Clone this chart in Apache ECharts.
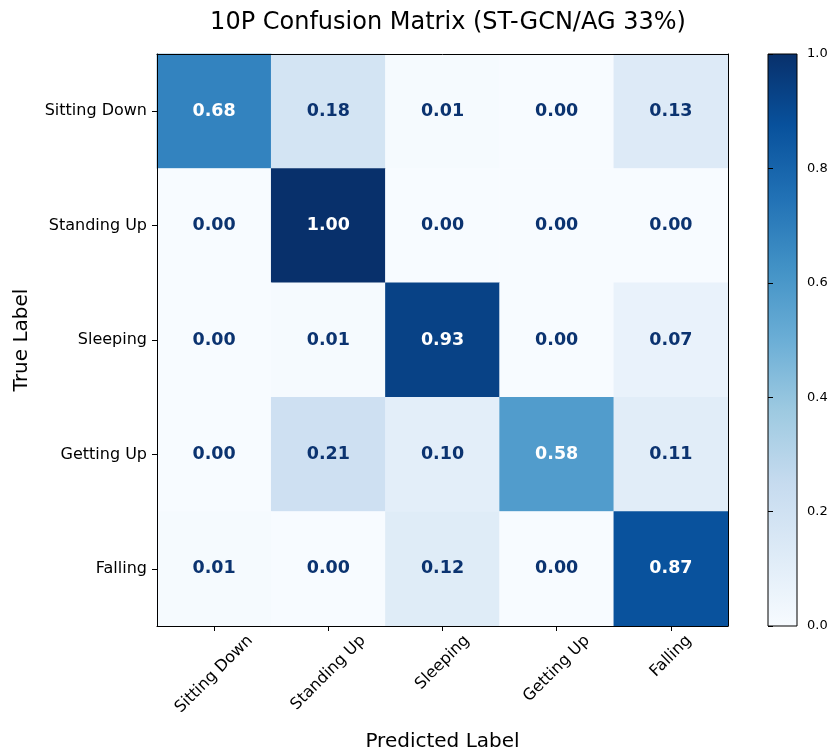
<!DOCTYPE html>
<html>
<head>
<meta charset="utf-8">
<script src="https://cdn.jsdelivr.net/npm/echarts@6/dist/echarts.min.js"></script>
<style>html,body{margin:0;padding:0;background:#fff;}#c{width:832px;height:755px;}</style>
</head>
<body>
<div id="c"></div>
<script>
const titleText = '10P Confusion Matrix (ST-GCN/AG 33%)';
const predictedLabels = ['Sitting Down', 'Standing Up', 'Sleeping', 'Getting Up', 'Falling'];
const trueLabels = ['Sitting Down', 'Standing Up', 'Sleeping', 'Getting Up', 'Falling'];
const rowSittingDown = [0.68, 0.18, 0.01, 0.00, 0.13];
const rowStandingUp = [0.00, 1.00, 0.00, 0.00, 0.00];
const rowSleeping = [0.00, 0.01, 0.93, 0.00, 0.07];
const rowGettingUp = [0.00, 0.21, 0.10, 0.58, 0.11];
const rowFalling = [0.01, 0.00, 0.12, 0.00, 0.87];
const colorbarTicks = [0.0, 0.2, 0.4, 0.6, 0.8, 1.0];

const rows = [rowSittingDown, rowStandingUp, rowSleeping, rowGettingUp, rowFalling];
const blues = ['#f7fbff', '#deebf7', '#c6dbef', '#9ecae1', '#6baed6', '#4292c6', '#2171b5', '#08519c', '#08306b'];
const FONT = 'DejaVu Sans';
const TICK_FS = 16;

const data = [];
rows.forEach((r, yi) => r.forEach((v, xi) => {
  data.push({
    value: [xi, yi, v],
    label: { color: v > 0.5 ? '#ffffff' : '#0b3370' }
  });
}));

// rotated x labels: centre each rotated label's bounding box under its tick (matplotlib style)
const ctx = document.createElement('canvas').getContext('2d');
ctx.font = TICK_FS + 'px "' + FONT + '"';
const xCats = predictedLabels.map(s => {
  const w = ctx.measureText(s).width;
  const sy = 5.5 + (w + TICK_FS * 1.16) / (2 * Math.SQRT2);
  const k = Math.SQRT2 * sy;
  return { value: s, textStyle: {
    align: 'center', verticalAlign: 'top', lineHeight: k, padding: [0, k, 0, 0],
    fontFamily: FONT, fontSize: TICK_FS, color: '#000' } };
});

const stops = blues.map((c, i) => ({ offset: 1 - i / (blues.length - 1), color: c }));

const chart = echarts.init(document.getElementById('c'), null, { renderer: 'canvas' });
chart.setOption({
  backgroundColor: '#fff',
  animation: false,
  title: {
    text: titleText, left: 443, top: 6, textAlign: 'center',
    textStyle: { fontFamily: FONT, fontSize: 24, fontWeight: 'normal', color: '#000' }
  },
  grid: [
    { left: 157, top: 54, width: 571, height: 572, outerBoundsMode: 'none', containLabel: false },
    { left: 768, top: 54, width: 29, height: 572, outerBoundsMode: 'none', containLabel: false,
      show: true, borderColor: '#000', borderWidth: 1,
      backgroundColor: { type: 'linear', x: 0, y: 0, x2: 0, y2: 1, colorStops: stops } }
  ],
  xAxis: [
    { type: 'category', gridIndex: 0, data: xCats, position: 'bottom', z: 5,
      name: 'Predicted Label', nameLocation: 'middle', nameGap: 106, nameMoveOverlap: false,
      nameTextStyle: { fontFamily: FONT, fontSize: 20, color: '#000' },
      axisLine: { show: true, lineStyle: { color: '#000', width: 1 } },
      axisTick: { show: true, alignWithLabel: true, length: 5, lineStyle: { color: '#000' } },
      axisLabel: { rotate: 45, interval: 0, hideOverlap: false,
        fontFamily: FONT, fontSize: TICK_FS, color: '#000', margin: 0 },
      splitLine: { show: false } },
    { type: 'category', gridIndex: 0, data: predictedLabels, position: 'top', z: 5,
      axisLine: { show: true, lineStyle: { color: '#000', width: 1 } },
      axisTick: { show: false }, axisLabel: { show: false } },
    { type: 'value', gridIndex: 1, min: 0, max: 1, show: false }
  ],
  yAxis: [
    { type: 'category', gridIndex: 0, data: trueLabels, inverse: true, position: 'left', z: 5,
      name: 'True Label', nameLocation: 'middle', nameGap: 125, nameRotate: 90,
      nameTextStyle: { fontFamily: FONT, fontSize: 20, color: '#000' },
      axisLine: { show: true, lineStyle: { color: '#000', width: 1 } },
      axisTick: { show: true, alignWithLabel: true, length: 5, lineStyle: { color: '#000' } },
      axisLabel: { fontFamily: FONT, fontSize: TICK_FS, color: '#000', margin: 10 },
      splitLine: { show: false } },
    { type: 'category', gridIndex: 0, data: trueLabels, inverse: true, position: 'right', z: 5,
      axisLine: { show: true, lineStyle: { color: '#000', width: 1 } },
      axisTick: { show: false }, axisLabel: { show: false } },
    { type: 'value', gridIndex: 1, min: 0, max: 1, interval: 0.2, position: 'right',
      axisLine: { show: false },
      axisTick: { show: true, length: 5, lineStyle: { color: '#000' } },
      axisLabel: { fontFamily: FONT, fontSize: 13, color: '#000', margin: 10,
        formatter: v => colorbarTicks.find(t => Math.abs(t - v) < 1e-9) !== undefined ? v.toFixed(1) : '' },
      splitLine: { show: false } }
  ],
  visualMap: {
    show: false, type: 'continuous', min: 0, max: 1, seriesIndex: 0,
    inRange: { color: blues }
  },
  series: [{
    type: 'heatmap', xAxisIndex: 0, yAxisIndex: 0, data: data,
    label: { show: true, fontFamily: FONT, fontSize: 17.5, fontWeight: 'bold',
      formatter: p => p.value[2].toFixed(2) },
    itemStyle: { borderWidth: 0 },
    emphasis: { disabled: true }
  }]
});
</script>
</body>
</html>
